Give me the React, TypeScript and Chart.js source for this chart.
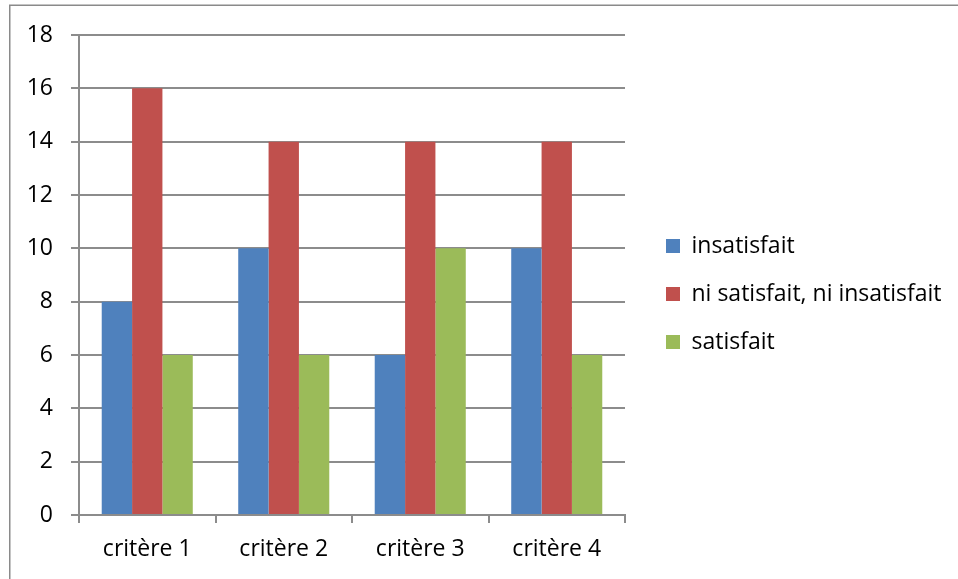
import React, { useEffect, useRef } from "react";
import { Chart, registerables } from "chart.js";

Chart.register(...registerables);

const categories = ["critère 1", "critère 2", "critère 3", "critère 4"];
const seriesNames = ["insatisfait", "ni satisfait, ni insatisfait", "satisfait"];
const insatisfait = [8, 10, 6, 10];
const niSatisfait = [16, 14, 14, 14];
const satisfait = [6, 6, 10, 6];
const seriesColors = ["#4F81BD", "#C0504D", "#9BBB59"];
const yMin = 0;
const yMax = 18;
const yStep = 2;

const W = 958;
const H = 579;
const FONT = "'Open Sans'";
const FS = 23;
const GRID = "#8c8c8c";

export default function App() {
  const ref = useRef<HTMLCanvasElement>(null);

  useEffect(() => {
    const canvas = ref.current;
    if (!canvas) return;

    const plotLeft = 79;
    const plotRight = 625;
    const plotTop = 35;
    const plotBottom = 515;
    const LP = 48 - FS;
    const boxLeft = 666;
    const boxH = 14;
    const spacerW = boxLeft - plotRight - LP;
    const padBottom = 0;
    const firstItemY = 239 - (FS - boxH) / 2;
    const titleH = firstItemY - plotTop - LP;

    const m = document.createElement("canvas").getContext("2d")!;
    m.font = `normal ${FS}px ${FONT}`;
    const maxText = Math.max(...seriesNames.map((s) => m.measureText(s).width));
    const legendW = LP + 14 + FS / 2 + maxText + 10;
    const padRight = Math.max(0, W - (plotRight + spacerW) - legendW);

    const framePlugin = {
      id: "frame",
      beforeDraw(chart: any) {
        const c = chart.ctx;
        c.save();
        c.fillStyle = "#ffffff";
        c.fillRect(0, 0, W, H);
        c.strokeStyle = "#8a8a8a";
        c.lineWidth = 1.5;
        c.beginPath();
        c.moveTo(9.75, H);
        c.lineTo(9.75, 5.25);
        c.lineTo(W, 5.25);
        c.stroke();
        c.restore();
      },
    };

    const chart = new Chart(canvas, {
      type: "bar",
      data: {
        labels: categories,
        datasets: [
          { label: seriesNames[0], data: insatisfait, backgroundColor: seriesColors[0] },
          { label: seriesNames[1], data: niSatisfait, backgroundColor: seriesColors[1] },
          { label: seriesNames[2], data: satisfait, backgroundColor: seriesColors[2] },
        ].map((d) => ({ ...d, borderWidth: 0, barPercentage: 1, categoryPercentage: 0.667 })),
      },
      options: {
        responsive: false,
        animation: false,
        layout: { padding: { top: plotTop, left: 0, right: padRight, bottom: padBottom } },
        plugins: {
          tooltip: { enabled: false },
          legend: {
            position: "right",
            align: "start",
            maxWidth: 600,
            title: {
              display: true,
              text: " ",
              font: { family: FONT, size: 1, lineHeight: 1 },
              padding: { top: titleH - 1, bottom: 0 },
            },
            labels: {
              boxWidth: 14,
              boxHeight: boxH,
              padding: LP,
              color: "#000",
              font: { family: FONT, size: FS },
            },
          },
        },
        scales: {
          x: {
            grid: { display: true, drawOnChartArea: false, drawTicks: true, tickLength: 8, color: GRID, lineWidth: 2 },
            border: { display: true, color: GRID, width: 2 },
            ticks: { color: "#000", font: { family: FONT, size: FS }, padding: 13, maxRotation: 0 },
            afterFit: (s: any) => {
              s.height = H - padBottom - plotBottom;
            },
          },
          y: {
            min: yMin,
            max: yMax,
            grid: { display: true, drawOnChartArea: true, drawTicks: true, tickLength: 8, color: GRID, lineWidth: 2 },
            border: { display: true, color: GRID, width: 2 },
            ticks: { stepSize: yStep, color: "#000", font: { family: FONT, size: FS }, padding: 18 },
            afterFit: (s: any) => {
              s.width = plotLeft;
            },
          },
          spacer: {
            type: "linear",
            position: "right",
            display: true,
            grid: { display: false, drawOnChartArea: false, drawTicks: false },
            border: { display: false },
            ticks: { display: false },
            afterFit: (s: any) => {
              s.width = spacerW;
            },
          },
        },
      } as any,
      plugins: [framePlugin],
    });

    return () => chart.destroy();
  }, []);

  return (
    <div style={{ position: "fixed", left: 0, top: 0, width: W, height: H, background: "#fff" }}>
      <canvas ref={ref} width={W} height={H} style={{ display: "block", width: W, height: H }} />
    </div>
  );
}
